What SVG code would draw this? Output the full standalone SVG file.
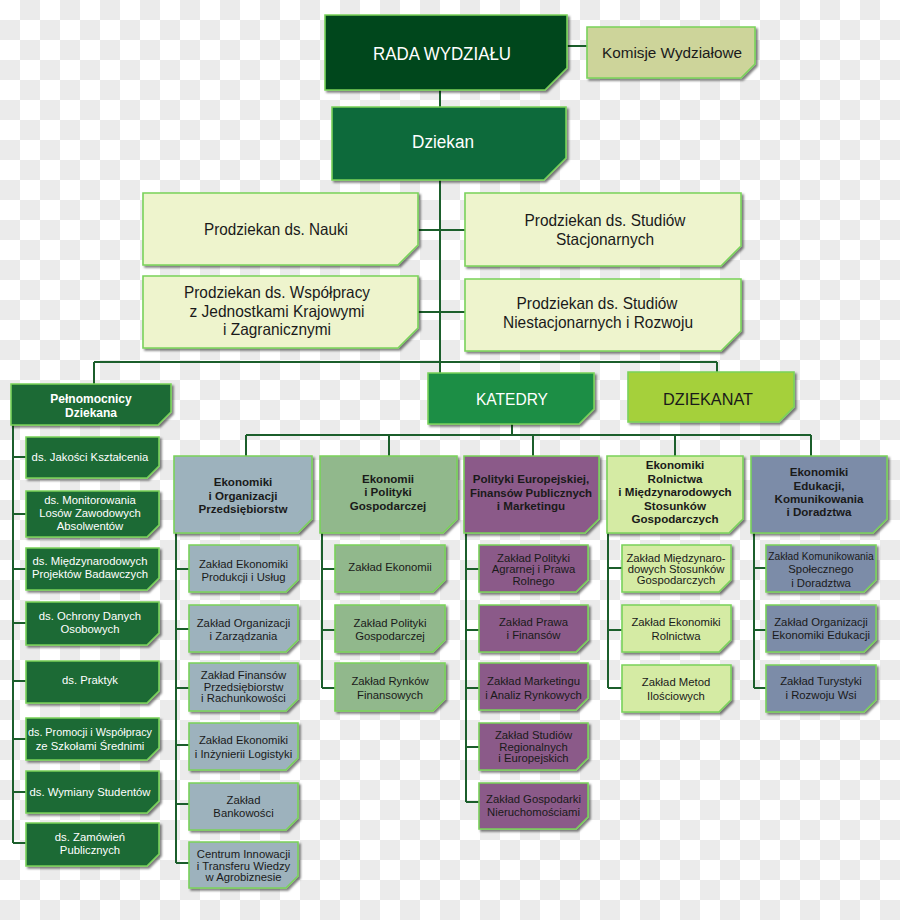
<svg xmlns="http://www.w3.org/2000/svg" width="900" height="920" viewBox="0 0 900 920">
<defs>
<pattern id="chk" width="40" height="40" patternUnits="userSpaceOnUse">
<rect width="40" height="40" fill="#ffffff"/>
<rect x="20" y="0" width="20" height="20" fill="#ebebeb"/>
<rect x="0" y="20" width="20" height="20" fill="#ebebeb"/>
</pattern>
<filter id="sh" x="-10%" y="-10%" width="130%" height="140%">
<feDropShadow dx="2" dy="2" stdDeviation="1.2" flood-color="#000" flood-opacity="0.5"/>
</filter>
<style>
.n{stroke:#79d25a;stroke-width:1.6;filter:url(#sh)}
.c{stroke:#1b5e2b;stroke-width:2;fill:none}
text{font-family:"Liberation Sans",Arial,sans-serif;text-anchor:middle;fill:#1a1a1a}
.w{fill:#ffffff}
.s{font-size:11.3px}
.h{font-size:11.6px;font-weight:bold}
.top{font-size:16.5px}
.big{font-size:18px}
</style>
</defs>
<rect width="900" height="920" fill="url(#chk)"/>

<g id="connectors" class="c">
<path d="M567 46H587"/>
<path d="M440 90V107"/>
<path d="M440 180V373"/>
<path d="M418 230H465"/>
<path d="M418 312H465"/>
<path d="M94 362H717M94 362V384M717 362V372"/>
<path d="M512 424V435M246 435H811M246 435V456M389 435V456M533 435V456M675 435V456M811 435V456"/>
<path d="M13 425V843M13 457H26M13 514H26M13 569H26M13 623H26M13 681H26M13 739H26M13 792H26M13 843H26"/>
<path d="M176 533V863M176 569H189M176 629H189M176 688H189M176 745H189M176 804H189M176 863H189"/>
<path d="M322 533V688M322 569H335M322 630H335M322 688H335"/>
<path d="M466 533V802M466 569H479M466 630H479M466 688H479M466 747H479M466 802H479"/>
<path d="M608 533V688M608 568H622M608 630H622M608 688H622"/>
<path d="M754 533V688M754 568H766M754 630H766M754 688H766"/>
</g>

<g id="rada"><path class="n" fill="#03471a" d="M325 15H567V68L545 90H325Z"/>
<text class="big w" x="442" y="60" textLength="138" lengthAdjust="spacingAndGlyphs">RADA WYDZIAŁU</text></g>
<g id="komisje"><path class="n" fill="#cdd49a" d="M587 27H755V64L741 78H587Z"/>
<text x="672" y="58" font-size="15.5" textLength="140" lengthAdjust="spacingAndGlyphs">Komisje Wydziałowe</text></g>
<g id="dziekan"><path class="n" fill="#116a3b" d="M332 107H566V158L544 180H332Z"/>
<text class="big w" x="443" y="148" textLength="62" lengthAdjust="spacingAndGlyphs">Dziekan</text></g>

<g id="pd-nauki"><path class="n" fill="#eef4cd" d="M143 193H418V245L398 265H143Z"/>
<text class="top" x="276" y="235" textLength="144" lengthAdjust="spacingAndGlyphs">Prodziekan ds. Nauki</text></g>
<g id="pd-stacj"><path class="n" fill="#eef4cd" d="M465 193H741V246L721 266H465Z"/>
<text class="top" x="605" y="226" textLength="161" lengthAdjust="spacingAndGlyphs">Prodziekan ds. Studiów</text>
<text class="top" x="605" y="245" textLength="98" lengthAdjust="spacingAndGlyphs">Stacjonarnych</text></g>
<g id="pd-wspolpracy"><path class="n" fill="#eef4cd" d="M143 276H418V328L398 348H143Z"/>
<text class="top" x="277" y="298" textLength="186" lengthAdjust="spacingAndGlyphs">Prodziekan ds. Współpracy</text>
<text class="top" x="277" y="317" textLength="175" lengthAdjust="spacingAndGlyphs">z Jednostkami Krajowymi</text>
<text class="top" x="277" y="335" textLength="108" lengthAdjust="spacingAndGlyphs">i Zagranicznymi</text></g>
<g id="pd-niestacj"><path class="n" fill="#eef4cd" d="M465 279H741V331L721 351H465Z"/>
<text class="top" x="597" y="309" textLength="161" lengthAdjust="spacingAndGlyphs">Prodziekan ds. Studiów</text>
<text class="top" x="598" y="328" textLength="190" lengthAdjust="spacingAndGlyphs">Niestacjonarnych i Rozwoju</text></g>

<g id="katedry"><path class="n" fill="#1b8e45" d="M428 373H594V409L579 424H428Z"/>
<text class="w" x="512" y="405" font-size="17" textLength="72" lengthAdjust="spacingAndGlyphs">KATEDRY</text></g>
<g id="dziekanat"><path class="n" fill="#a5d03b" d="M628 372H794V407L779 422H628Z"/>
<text x="708" y="405" font-size="17" textLength="90" lengthAdjust="spacingAndGlyphs">DZIEKANAT</text></g>

<g id="pelnomocnicy"><path class="n" fill="#1d6b36" d="M11 384H171V412L158 425H11Z"/>
<text class="w" x="91" y="403" font-size="12" font-weight="bold">Pełnomocnicy</text><text class="w" x="91" y="417" font-size="12" font-weight="bold">Dziekana</text></g>
<g id="p1"><path class="n" fill="#1d6b36" d="M26 437H159V466L147 478H26Z"/>
<text class="s w" x="90" y="461">ds. Jakości Kształcenia</text></g>
<g id="p2"><path class="n" fill="#1d6b36" d="M26 491H159V525L147 537H26Z"/>
<text class="s w" x="90" y="504">ds. Monitorowania</text><text class="s w" x="90" y="517">Losów Zawodowych</text><text class="s w" x="90" y="530">Absolwentów</text></g>
<g id="p3"><path class="n" fill="#1d6b36" d="M26 548H159V578L147 590H26Z"/>
<text class="s w" x="90" y="565">ds. Międzynarodowych</text><text class="s w" x="90" y="578">Projektów Badawczych</text></g>
<g id="p4"><path class="n" fill="#1d6b36" d="M26 602H159V633L147 645H26Z"/>
<text class="s w" x="90" y="620">ds. Ochrony Danych</text><text class="s w" x="90" y="633">Osobowych</text></g>
<g id="p5"><path class="n" fill="#1d6b36" d="M26 661H159V691L147 703H26Z"/>
<text class="s w" x="90" y="684">ds. Praktyk</text></g>
<g id="p6"><path class="n" fill="#1d6b36" d="M26 718H159V748L147 760H26Z"/>
<text class="s w" x="90" y="736" textLength="124" lengthAdjust="spacingAndGlyphs">ds. Promocji i Współpracy</text><text class="s w" x="90" y="750">ze Szkołami Średnimi</text></g>
<g id="p7"><path class="n" fill="#1d6b36" d="M26 771H159V801L147 813H26Z"/>
<text class="s w" x="90" y="796">ds. Wymiany Studentów</text></g>
<g id="p8"><path class="n" fill="#1d6b36" d="M26 823H159V854L147 866H26Z"/>
<text class="s w" x="90" y="841">ds. Zamówień</text><text class="s w" x="90" y="854">Publicznych</text></g>

<g id="k1"><path class="n" fill="#9db2bd" d="M174 456H312V519L298 533H174Z"/>
<text class="h" x="243" y="486">Ekonomiki</text><text class="h" x="243" y="500">i Organizacji</text><text class="h" x="243" y="513">Przedsiębiorstw</text></g>
<g id="k2"><path class="n" fill="#91b88c" d="M320 456H457V519L443 533H320Z"/>
<text class="h" x="388" y="483">Ekonomii</text><text class="h" x="388" y="496">i Polityki</text><text class="h" x="388" y="510">Gospodarczej</text></g>
<g id="k3"><path class="n" fill="#8b5a89" d="M464 456H599V519L585 533H464Z"/>
<text class="h" x="531" y="483">Polityki Europejskiej,</text><text class="h" x="531" y="497" textLength="122" lengthAdjust="spacingAndGlyphs">Finansów Publicznych</text><text class="h" x="531" y="510">i Marketingu</text></g>
<g id="k4"><path class="n" fill="#d5eba4" d="M607 456H743V519L729 533H607Z"/>
<text class="h" x="675" y="469">Ekonomiki</text><text class="h" x="675" y="483">Rolnictwa</text><text class="h" x="675" y="496">i Międzynarodowych</text><text class="h" x="675" y="510">Stosunków</text><text class="h" x="675" y="523">Gospodarczych</text></g>
<g id="k5"><path class="n" fill="#7b8ca8" d="M751 456H887V519L873 533H751Z"/>
<text class="h" x="819" y="476">Ekonomiki</text><text class="h" x="819" y="490">Edukacji,</text><text class="h" x="819" y="503">Komunikowania</text><text class="h" x="819" y="516">i Doradztwa</text></g>

<g id="k1z1"><path class="n" fill="#9db2bd" d="M189 545H298V580L286 592H189Z"/>
<text class="s" x="243.5" y="568">Zakład Ekonomiki</text><text class="s" x="243.5" y="581">Produkcji i Usług</text></g>
<g id="k1z2"><path class="n" fill="#9db2bd" d="M189 605H298V640L286 652H189Z"/>
<text class="s" x="243.5" y="627">Zakład Organizacji</text><text class="s" x="243.5" y="640">i Zarządzania</text></g>
<g id="k1z3"><path class="n" fill="#9db2bd" d="M189 663H298V699L286 711H189Z"/>
<text class="s" x="243.5" y="679">Zakład Finansów</text><text class="s" x="243.5" y="691">Przedsiębiorstw</text><text class="s" x="243.5" y="702">i Rachunkowości</text></g>
<g id="k1z4"><path class="n" fill="#9db2bd" d="M189 723H298V758L286 770H189Z"/>
<text class="s" x="243.5" y="744">Zakład Ekonomiki</text><text class="s" x="243.5" y="758">i Inżynierii Logistyki</text></g>
<g id="k1z5"><path class="n" fill="#9db2bd" d="M189 783H298V818L286 830H189Z"/>
<text class="s" x="243.5" y="804">Zakład</text><text class="s" x="243.5" y="817">Bankowości</text></g>
<g id="k1z6"><path class="n" fill="#9db2bd" d="M189 842H298V876L286 888H189Z"/>
<text class="s" x="243.5" y="858">Centrum Innowacji</text><text class="s" x="243.5" y="870">i Transferu Wiedzy</text><text class="s" x="243.5" y="881">w Agrobiznesie</text></g>

<g id="k2z1"><path class="n" fill="#91b88c" d="M335 545H445V580L433 592H335Z"/>
<text class="s" x="390" y="571">Zakład Ekonomii</text></g>
<g id="k2z2"><path class="n" fill="#91b88c" d="M335 605H445V640L433 652H335Z"/>
<text class="s" x="390" y="627">Zakład Polityki</text><text class="s" x="390" y="640">Gospodarczej</text></g>
<g id="k2z3"><path class="n" fill="#91b88c" d="M335 663H445V699L433 711H335Z"/>
<text class="s" x="390" y="685">Zakład Rynków</text><text class="s" x="390" y="699">Finansowych</text></g>

<g id="k3z1"><path class="n" fill="#8b5a89" d="M479 545H588V580L576 592H479Z"/>
<text class="s" x="533.5" y="562">Zakład Polityki</text><text class="s" x="533.5" y="573">Agrarnej i Prawa</text><text class="s" x="533.5" y="585">Rolnego</text></g>
<g id="k3z2"><path class="n" fill="#8b5a89" d="M479 605H588V640L576 652H479Z"/>
<text class="s" x="533.5" y="626">Zakład Prawa</text><text class="s" x="533.5" y="639">i Finansów</text></g>
<g id="k3z3"><path class="n" fill="#8b5a89" d="M479 663H588V698L576 710H479Z"/>
<text class="s" x="533.5" y="685">Zakład Marketingu</text><text class="s" x="533.5" y="699">i Analiz Rynkowych</text></g>
<g id="k3z4"><path class="n" fill="#8b5a89" d="M479 723H588V758L576 770H479Z"/>
<text class="s" x="533.5" y="739">Zakład Studiów</text><text class="s" x="533.5" y="751">Regionalnych</text><text class="s" x="533.5" y="762">i Europejskich</text></g>
<g id="k3z5"><path class="n" fill="#8b5a89" d="M479 783H588V817L576 829H479Z"/>
<text class="s" x="533.5" y="803">Zakład Gospodarki</text><text class="s" x="533.5" y="816">Nieruchomościami</text></g>

<g id="k4z1"><path class="n" fill="#d5eba4" d="M622 545H731V580L719 592H622Z"/>
<text class="s" x="676" y="562">Zakład Międzynaro-</text><text class="s" x="676" y="573">dowych Stosunków</text><text class="s" x="676" y="584">Gospodarczych</text></g>
<g id="k4z2"><path class="n" fill="#d5eba4" d="M622 605H731V640L719 652H622Z"/>
<text class="s" x="676" y="626">Zakład Ekonomiki</text><text class="s" x="676" y="640">Rolnictwa</text></g>
<g id="k4z3"><path class="n" fill="#d5eba4" d="M622 665H731V700L719 712H622Z"/>
<text class="s" x="676" y="686">Zakład Metod</text><text class="s" x="676" y="700">Ilościowych</text></g>

<g id="k5z1"><path class="n" fill="#7b8ca8" d="M766 545H876V580L864 592H766Z"/>
<text x="821" y="560" font-size="10.2">Zakład Komunikowania</text><text class="s" x="821" y="573">Społecznego</text><text class="s" x="821" y="587">i Doradztwa</text></g>
<g id="k5z2"><path class="n" fill="#7b8ca8" d="M766 605H876V640L864 652H766Z"/>
<text class="s" x="821" y="626">Zakład Organizacji</text><text class="s" x="821" y="639">Ekonomiki Edukacji</text></g>
<g id="k5z3"><path class="n" fill="#7b8ca8" d="M766 665H876V700L864 712H766Z"/>
<text class="s" x="821" y="685">Zakład Turystyki</text><text class="s" x="821" y="699">i Rozwoju Wsi</text></g>
</svg>
